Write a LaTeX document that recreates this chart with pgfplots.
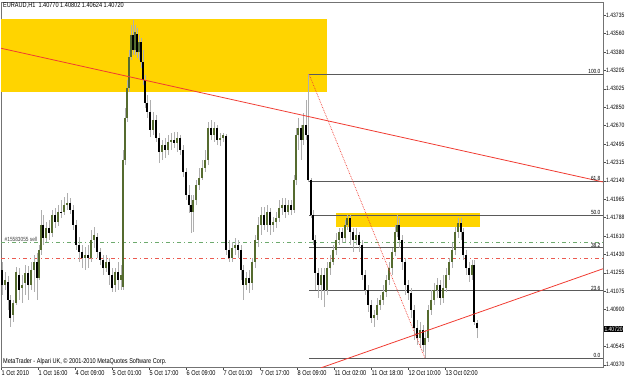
\documentclass[border=0pt]{standalone}
\usepackage{fontspec}
\setmainfont{Liberation Sans}[FakeStretch=0.8]
\usepackage{pgfplots}
\pgfplotsset{compat=1.18}
\usepackage{pgfplotstable}

\definecolor{bull}{RGB}{85,107,47}
\definecolor{wick}{RGB}{175,175,175}
\definecolor{zone}{RGB}{255,212,0}
\definecolor{tline}{RGB}{240,60,50}
\definecolor{fib}{RGB}{90,90,90}
\definecolor{ordg}{RGB}{110,170,110}
\definecolor{ordr}{RGB}{235,90,80}

\pgfplotstableread{
x o h l c
2 1.41284 1.41360 1.41042 1.41138
5 1.41138 1.41264 1.41092 1.41188
8 1.41168 1.41224 1.40900 1.40996
10 1.40996 1.41042 1.40734 1.40820
13 1.40850 1.40996 1.40784 1.40966
16 1.40966 1.41314 1.40946 1.41264
19 1.41234 1.41304 1.40996 1.41092
22 1.41108 1.41234 1.40966 1.41138
25 1.41158 1.41330 1.41042 1.41254
28 1.41254 1.41320 1.40996 1.41138
31 1.41138 1.41360 1.41092 1.41284
34 1.41284 1.41426 1.41072 1.41360
37 1.41360 1.41446 1.40996 1.41208
39 1.41208 1.41523 1.41188 1.41476
41 1.41476 1.41861 1.41426 1.41715
43 1.41715 1.41811 1.41523 1.41593
46 1.41593 1.41745 1.41553 1.41689
49 1.41689 1.41765 1.41573 1.41639
52 1.41639 1.41861 1.41599 1.41811
55 1.41811 1.41877 1.41689 1.41745
58 1.41745 1.41907 1.41705 1.41841
61 1.41841 1.41957 1.41781 1.41831
64 1.41841 1.41983 1.41811 1.41907
67 1.41907 1.42023 1.41861 1.41927
70 1.41927 1.41973 1.41821 1.41861
73 1.41861 1.41907 1.41669 1.41715
76 1.41715 1.41765 1.41476 1.41523
79 1.41523 1.41599 1.41360 1.41456
82 1.41456 1.41523 1.41300 1.41396
85 1.41396 1.41503 1.41284 1.41426
88 1.41426 1.41523 1.41300 1.41396
91 1.41396 1.41669 1.41360 1.41573
94 1.41573 1.41699 1.41496 1.41619
97 1.41599 1.41639 1.41396 1.41456
100 1.41456 1.41496 1.41330 1.41380
103 1.41380 1.41426 1.41234 1.41300
106 1.41300 1.41426 1.41264 1.41360
109 1.41360 1.41400 1.41138 1.41234
112 1.41234 1.41300 1.41072 1.41108
115 1.41138 1.41300 1.41072 1.41264
118 1.41264 1.41360 1.41092 1.41188
121 1.41188 1.41330 1.41092 1.41234
123 1.41118 1.42437 1.41092 1.42341
125 1.42341 1.42842 1.42291 1.42746
127 1.42746 1.43110 1.42706 1.43034
129 1.43034 1.43399 1.42994 1.43332
131 1.43332 1.43637 1.43302 1.43541
133 1.43541 1.43687 1.43349 1.43399
135 1.43399 1.43637 1.43349 1.43571
137 1.43551 1.43611 1.43322 1.43379
139 1.43379 1.43541 1.43302 1.43475
141 1.43475 1.43515 1.43222 1.43282
143 1.43282 1.43399 1.43060 1.43110
145 1.43110 1.43160 1.42838 1.42888
147 1.42888 1.42964 1.42746 1.42802
150 1.42802 1.42918 1.42560 1.42630
153 1.42630 1.42802 1.42580 1.42726
156 1.42726 1.42772 1.42514 1.42554
159 1.42554 1.42600 1.42311 1.42417
162 1.42417 1.42534 1.42341 1.42484
165 1.42484 1.42554 1.42361 1.42437
168 1.42437 1.42580 1.42387 1.42514
171 1.42514 1.42600 1.42437 1.42534
174 1.42534 1.42610 1.42457 1.42504
177 1.42504 1.42610 1.42417 1.42554
180 1.42554 1.42580 1.42387 1.42437
183 1.42437 1.42484 1.42175 1.42225
186 1.42225 1.42265 1.41957 1.42003
189 1.42003 1.42099 1.41831 1.41907
191 1.41907 1.42003 1.41639 1.41841
193 1.41841 1.42003 1.41649 1.41957
196 1.41957 1.42149 1.41907 1.42099
199 1.42099 1.42265 1.42053 1.42169
202 1.42169 1.42341 1.42149 1.42265
205 1.42265 1.42437 1.42225 1.42341
208 1.42341 1.42706 1.42291 1.42650
211 1.42650 1.42726 1.42534 1.42580
214 1.42580 1.42706 1.42514 1.42650
217 1.42650 1.42676 1.42484 1.42534
220 1.42534 1.42600 1.42474 1.42554
223 1.42554 1.42600 1.42514 1.42580
226 1.42570 1.42590 1.41426 1.41476
229 1.41476 1.41573 1.41360 1.41396
232 1.41396 1.41553 1.41360 1.41496
235 1.41496 1.41593 1.41426 1.41523
238 1.41523 1.41573 1.41396 1.41476
241 1.41476 1.41523 1.41188 1.41284
243 1.41284 1.41330 1.40996 1.41138
246 1.41138 1.41264 1.41092 1.41208
249 1.41208 1.41284 1.41062 1.41158
252 1.41158 1.41396 1.41092 1.41360
255 1.41360 1.41619 1.41300 1.41573
258 1.41573 1.41795 1.41503 1.41715
261 1.41715 1.41887 1.41619 1.41811
264 1.41811 1.41887 1.41669 1.41715
267 1.41715 1.41907 1.41649 1.41841
270 1.41841 1.41877 1.41619 1.41715
273 1.41715 1.41795 1.41649 1.41745
276 1.41745 1.41841 1.41689 1.41785
279 1.41785 1.41957 1.41745 1.41877
282 1.41877 1.41973 1.41811 1.41907
285 1.41907 1.41973 1.41781 1.41841
288 1.41841 1.41957 1.41811 1.41907
291 1.41907 1.41957 1.41811 1.41861
294 1.41861 1.42195 1.41831 1.42149
296 1.42149 1.42650 1.42099 1.42580
298 1.42580 1.42746 1.42437 1.42650
301 1.42650 1.42676 1.42341 1.42534
303 1.42534 1.42792 1.42484 1.42676
306 1.42676 1.42918 1.42534 1.42580
308 1.42580 1.43166 1.42129 1.42149
311 1.42149 1.42169 1.41781 1.41811
313 1.41811 1.41861 1.41523 1.41573
315 1.41573 1.41619 1.41092 1.41254
318 1.41254 1.41300 1.41016 1.41138
321 1.41138 1.41300 1.40996 1.41234
324 1.41234 1.41300 1.40926 1.41092
327 1.41092 1.41360 1.41042 1.41300
330 1.41300 1.41426 1.41234 1.41360
333 1.41360 1.41523 1.41330 1.41476
336 1.41476 1.41639 1.41426 1.41573
339 1.41573 1.41689 1.41523 1.41649
342 1.41649 1.41689 1.41543 1.41593
345 1.41593 1.41765 1.41553 1.41715
347 1.41715 1.41811 1.41669 1.41785
350 1.41785 1.41811 1.41523 1.41649
353 1.41649 1.41689 1.41456 1.41573
356 1.41573 1.41689 1.41523 1.41619
359 1.41619 1.41649 1.41456 1.41523
362 1.41523 1.41573 1.41188 1.41234
365 1.41234 1.41284 1.41042 1.41092
368 1.41092 1.41138 1.40880 1.40946
371 1.40946 1.40996 1.40774 1.40820
374 1.40820 1.40900 1.40734 1.40850
377 1.40850 1.41016 1.40804 1.40946
380 1.40946 1.41042 1.40900 1.40996
383 1.40996 1.41138 1.40946 1.41072
386 1.41072 1.41234 1.41022 1.41188
389 1.41188 1.41360 1.41138 1.41300
392 1.41300 1.41496 1.41234 1.41456
395 1.41456 1.41715 1.41416 1.41649
397 1.41649 1.41811 1.41599 1.41715
399 1.41715 1.41781 1.41496 1.41573
402 1.41573 1.41619 1.41284 1.41360
405 1.41360 1.41400 1.41042 1.41138
408 1.41138 1.41188 1.40996 1.41062
411 1.41062 1.41108 1.40820 1.40900
414 1.40900 1.40946 1.40612 1.40724
417 1.40724 1.40804 1.40565 1.40628
420 1.40628 1.40784 1.40535 1.40708
423 1.40708 1.40754 1.40495 1.40565
425 1.40565 1.40708 1.40435 1.40628
428 1.40628 1.40946 1.40592 1.40900
431 1.40900 1.41092 1.40850 1.40996
434 1.40996 1.41158 1.40946 1.41092
437 1.41092 1.41208 1.41016 1.41138
440 1.41138 1.41188 1.40946 1.41016
443 1.41016 1.41234 1.40966 1.41108
446 1.41108 1.41300 1.41072 1.41234
449 1.41234 1.41400 1.41188 1.41360
452 1.41360 1.41543 1.41300 1.41476
455 1.41476 1.41699 1.41426 1.41649
458 1.41649 1.41781 1.41593 1.41735
461 1.41735 1.41781 1.41573 1.41649
463 1.41649 1.41689 1.41380 1.41426
466 1.41426 1.41476 1.41234 1.41300
469 1.41300 1.41360 1.41168 1.41234
472 1.41234 1.41380 1.41188 1.41330
474 1.41330 1.41380 1.40754 1.40784
477 1.40770 1.40802 1.40624 1.40720
}\bars

\newcommand{\tfont}{\fontsize{7}{8}\selectfont}
\newcommand{\yfont}{\fontsize{6.3}{7}\selectfont}
\newcommand{\sfont}{\fontsize{6}{7}\selectfont}

\begin{document}
\begin{tikzpicture}[x=1bp,y=1bp]
\path[use as bounding box] (0,0) rectangle (625,377);
\begin{axis}[
  at={(1bp,10bp)}, anchor=south west,
  scale only axis, width=602bp, height=365bp,
  xmin=1, xmax=603, ymin=1.40349, ymax=1.43860,
  axis line style={black!55, line width=0.8bp},
  tick style={black!70, line width=0.6bp},
  tick align=outside, major tick length=2.5bp,
  xtick pos=bottom, ytick pos=right,
  yticklabel pos=right,
  ytick={1.43735,1.43560,1.43380,1.43205,1.43025,1.42850,1.42670,1.42495,1.42315,1.42140,1.41965,1.41788,1.41610,1.41430,1.41255,1.41075,1.40900,1.40545,1.40370},
  yticklabels={1.43735,1.43560,1.43380,1.43205,1.43025,1.42850,1.42670,1.42495,1.42315,1.42140,1.41965,1.41788,1.41610,1.41430,1.41255,1.41075,1.40900,1.40545,1.40370},
  yticklabel style={anchor=west, inner sep=0.5bp, font=\yfont},
  xtick={1,38,75,112,149,186,223,260,297,334,371,408,445},
  xticklabels={1 Oct 2010,1 Oct 16:00,4 Oct 09:00,5 Oct 01:00,5 Oct 17:00,6 Oct 09:00,7 Oct 01:00,7 Oct 17:00,8 Oct 09:00,11 Oct 02:00,11 Oct 18:00,12 Oct 10:00,13 Oct 02:00},
  xticklabel style={anchor=north west, inner sep=0.5bp, font=\tfont},
  /pgf/number format/assume math mode=true,
  clip=true,
]
% supply/demand zones
\addplot[fill=zone, draw=none] coordinates {(1,1.43696) (327,1.43696) (327,1.42994) (1,1.42994)} -- cycle;
\addplot[fill=zone, draw=none] coordinates {(336,1.41831) (480,1.41831) (480,1.41699) (336,1.41699)} -- cycle;
% order lines
\addplot[ordg, line width=0.8bp, dash pattern=on 4bp off 3bp on 1bp off 3bp] coordinates {(1,1.41543) (603,1.41543)};
\addplot[ordr, line width=0.8bp, dash pattern=on 4bp off 3bp on 1bp off 3bp] coordinates {(1,1.41390) (603,1.41390)};
% fibonacci levels
\addplot[fib, line width=0.8bp] coordinates {(309,1.43166) (603,1.43166)};
\addplot[fib, line width=0.8bp] coordinates {(309,1.42139) (603,1.42139)};
\addplot[fib, line width=0.8bp] coordinates {(309,1.41811) (603,1.41811)};
\addplot[fib, line width=0.8bp] coordinates {(309,1.41496) (603,1.41496)};
\addplot[fib, line width=0.8bp] coordinates {(309,1.41082) (603,1.41082)};
\addplot[fib, line width=0.8bp] coordinates {(309,1.40435) (603,1.40435)};
% candles: wicks
\addplot[draw=none, mark=none, error bars/.cd, y dir=plus, y explicit, error mark=none,
  error bar style={draw=wick, solid, line width=1bp}]
  table[x=x, y=l, y error expr=\thisrow{h}-\thisrow{l}] {\bars};
% bull bodies
\addplot[draw=none, mark=none, error bars/.cd, y dir=plus, y explicit, error mark=none,
  error bar style={draw=bull, solid, line width=1.8bp}]
  table[x=x, y expr={\thisrow{c}>=\thisrow{o} ? \thisrow{o} : nan}, y error expr=\thisrow{c}-\thisrow{o}] {\bars};
% bear bodies
\addplot[draw=none, mark=none, error bars/.cd, y dir=plus, y explicit, error mark=none,
  error bar style={draw=black, solid, line width=1.8bp}]
  table[x=x, y expr={\thisrow{c}<\thisrow{o} ? \thisrow{c} : nan}, y error expr=\thisrow{o}-\thisrow{c}] {\bars};
% trend lines
\addplot[tline, line width=0.8bp] coordinates {(1,1.43415) (603,1.42129)};
\addplot[tline, line width=0.8bp] coordinates {(321,1.40341) (603,1.41294)};
\addplot[tline, line width=0.7bp, densely dotted] coordinates {(309,1.43166) (425,1.40435)};
\end{axis}
% texts
\node[anchor=west, inner sep=0, font=\tfont] at (3,371) {EURAUD,H1\ \ 1.40770 1.40802 1.40624 1.40720};
\node[anchor=west, inner sep=0, font=\tfont] at (3,15) {MetaTrader - Alpari UK, © 2001-2010 MetaQuotes Software Corp.};
\node[anchor=south west, inner sep=0.5bp, font=\sfont, text=black!75] at (4,135) {\#15583055 sell};
\node[anchor=south east, inner sep=0.5bp, font=\sfont] at (601,303) {100.0};
\node[anchor=south east, inner sep=0.5bp, font=\sfont] at (601,196) {61.8};
\node[anchor=south east, inner sep=0.5bp, font=\sfont] at (601,162) {50.0};
\node[anchor=south east, inner sep=0.5bp, font=\sfont] at (601,129) {38.2};
\node[anchor=south east, inner sep=0.5bp, font=\sfont] at (601,86) {23.6};
\node[anchor=south east, inner sep=0.5bp, font=\sfont] at (601,19) {0.0};
\node[anchor=west, fill=black, text=white, inner sep=0.8bp, font=\yfont] at (603.5,48) {1.40720};
\end{tikzpicture}
\end{document}
